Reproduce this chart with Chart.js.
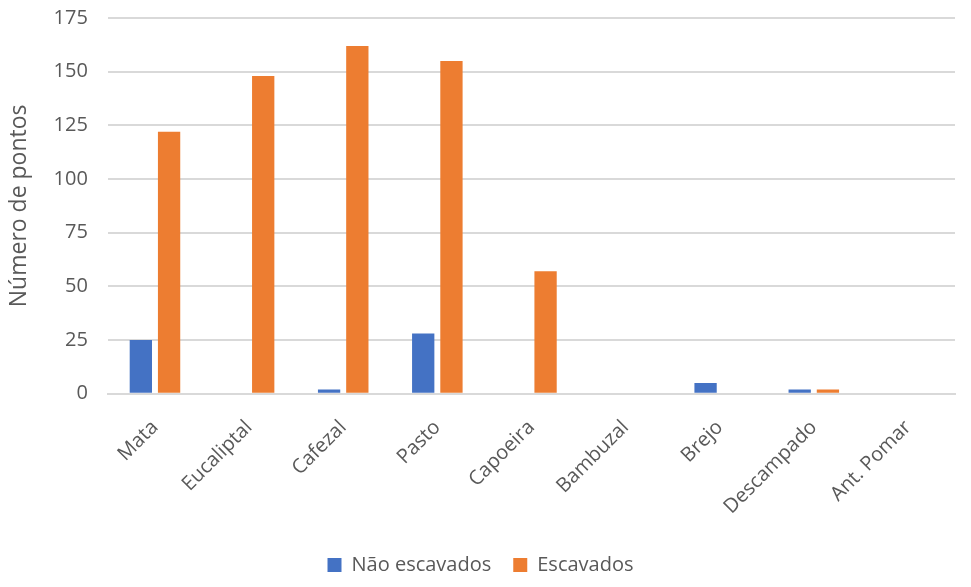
<!DOCTYPE html>
<html>
<head>
<meta charset="utf-8">
<script src="https://cdn.jsdelivr.net/npm/chart.js@4/dist/chart.umd.min.js"></script>
<style>
  html, body { margin: 0; padding: 0; background: #fff; }
  #wrap { width: 971px; height: 587px; }
</style>
</head>
<body>
<div id="wrap"><canvas id="c"></canvas></div>
<script>
const categories = ['Mata', 'Eucaliptal', 'Cafezal', 'Pasto', 'Capoeira', 'Bambuzal', 'Brejo', 'Descampado', 'Ant. Pomar'];
const naoEscavados = [25, 0, 2, 28, 0, 0, 5, 2, 0];
const escavados = [122, 148, 162, 155, 57, 0, 0, 2, 0];
const yTicks = [0, 25, 50, 75, 100, 125, 150, 175];

const font = { family: '"Open Sans", "Noto Sans", sans-serif', size: 20 };
const muted = '#595959';

new Chart(document.getElementById('c'), {
    type: 'bar',
    data: {
        labels: categories,
        datasets: [
            { label: 'Não escavados', data: naoEscavados, backgroundColor: '#4472c4' },
            { label: 'Escavados', data: escavados, backgroundColor: '#ed7d31' },
        ],
    },
    options: {
        responsive: true,
        maintainAspectRatio: false,
        animation: false,
        categoryPercentage: 0.6,
        barPercentage: 0.79,
        layout: { padding: { top: 18, right: 16, left: 6, bottom: 2 } },
        plugins: {
            legend: {
                position: 'bottom',
                labels: { color: muted, font, boxWidth: 14, boxHeight: 14, padding: 22 },
            },
            tooltip: { enabled: false },
        },
        scales: {
            x: {
                grid: { display: false },
                border: { color: '#d9d9d9', width: 2 },
                ticks: { color: muted, font, maxRotation: 45, minRotation: 45, padding: 14 },
            },
            y: {
                min: 0,
                max: 175,
                afterBuildTicks: (axis) => { axis.ticks = yTicks.map(v => ({ value: v })); },
                afterFit: (axis) => { axis.paddingTop = 0; },
                grid: { color: '#d9d9d9', lineWidth: 2, drawTicks: false },
                border: { display: false },
                ticks: { color: muted, font, padding: 20 },
                title: { display: true, text: 'Número de pontos', color: muted, font: { ...font, size: 23 }, padding: 0 },
            },
        },
    },
});
</script>
</body>
</html>
